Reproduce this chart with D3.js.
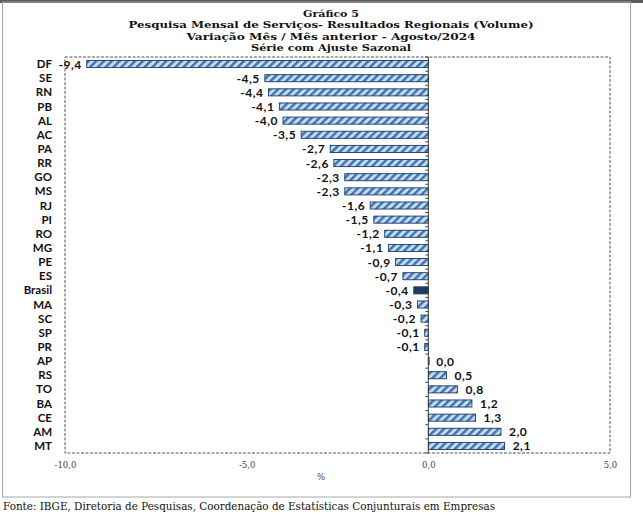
<!DOCTYPE html>
<html>
<head>
<meta charset="utf-8">
<script src="https://cdn.jsdelivr.net/npm/d3@7"></script>
<style>
  html, body { margin: 0; padding: 0; background: #fff; }
  svg { display: block; }
</style>
</head>
<body>
<svg id="chart" width="643" height="515"></svg>
<script>
const categories = ["DF","SE","RN","PB","AL","AC","PA","RR","GO","MS","RJ","PI","RO","MG","PE","ES","Brasil","MA","SC","SP","PR","AP","RS","TO","BA","CE","AM","MT"];
const values = [-9.4,-4.5,-4.4,-4.1,-4.0,-3.5,-2.7,-2.6,-2.3,-2.3,-1.6,-1.5,-1.2,-1.1,-0.9,-0.7,-0.4,-0.3,-0.2,-0.1,-0.1,0.0,0.5,0.8,1.2,1.3,2.0,2.1];
const xTicks = [-10, -5, 0, 5];
const titleLines = ["Gráfico 5", "Pesquisa Mensal de Serviços- Resultados Regionais (Volume)", "Variação Mês / Mês anterior - Agosto/2024", "Série com Ajuste Sazonal"];
const axisTitle = "%";
const sourceText = "Fonte: IBGE, Diretoria de Pesquisas, Coordenação de Estatísticas Conjunturais em Empresas";
const highlight = "Brasil";

const data = categories.map((c, i) => ({ cat: c, val: values[i] }));
const svg = d3.select("#chart");
const fmt = v => v.toFixed(1).replace(".", ",");

const plot = { left: 65, right: 610, top: 57, bottom: 453 };

// outer frame
svg.append("rect").attr("x", 0).attr("y", 0).attr("width", 643).attr("height", 3).attr("fill", "#5a5a5a");
svg.append("rect").attr("x", 2.5).attr("y", 2).attr("width", 628).attr("height", 495)
  .attr("fill", "none").attr("stroke", "#a8a8a8").attr("stroke-width", 1);

// hatch pattern
const defs = svg.append("defs");
const pat = defs.append("pattern").attr("id", "hatch").attr("patternUnits", "userSpaceOnUse")
  .attr("width", 5.5).attr("height", 5.5).attr("patternTransform", "rotate(45)");
pat.append("rect").attr("width", 5.5).attr("height", 5.5).attr("fill", "#c3daf0");
pat.append("rect").attr("x", 0).attr("width", 2.4).attr("height", 5.5).attr("fill", "#3d72ad");

// titles
const titleWidths = [56, 405, 289, 160];
const title = svg.append("g").attr("font-family", "'DejaVu Serif', serif").attr("font-weight", "bold")
  .attr("font-size", 9.8).attr("fill", "#111").attr("text-anchor", "middle");
titleLines.forEach((t, i) => {
  title.append("text").attr("x", 331).attr("y", 16.5 + i * 11.6)
    .attr("textLength", titleWidths[i]).attr("lengthAdjust", "spacingAndGlyphs").text(t);
});

const x = d3.scaleLinear().domain([-10, 5]).range([plot.left, plot.right]);
const y = d3.scaleBand().domain(categories).range([plot.top, plot.bottom]).paddingInner(0.5).paddingOuter(0.25);

// plot border dashed
svg.append("rect").attr("x", plot.left).attr("y", plot.top)
  .attr("width", plot.right - plot.left).attr("height", plot.bottom - plot.top)
  .attr("fill", "none").attr("stroke", "#555").attr("stroke-width", 1).attr("stroke-dasharray", "3,1.5");

// bars
svg.append("g").selectAll("rect").data(data).join("rect")
  .attr("x", d => x(Math.min(0, d.val)))
  .attr("y", d => y(d.cat))
  .attr("width", d => Math.max(Math.abs(x(d.val) - x(0)), 0.8))
  .attr("height", y.bandwidth())
  .attr("fill", d => d.cat === highlight ? "#1f3b5e" : "url(#hatch)")
  .attr("stroke", "#1f3864").attr("stroke-width", 0.9);

// zero axis line with band ticks
const zero = svg.append("g").attr("stroke", "#404040").attr("stroke-width", 1);
zero.append("line").attr("x1", x(0)).attr("x2", x(0)).attr("y1", plot.top).attr("y2", plot.bottom);
d3.range(categories.length + 1).forEach(i => {
  const yy = plot.top + i * (plot.bottom - plot.top) / categories.length;
  zero.append("line").attr("x1", x(0) - 3).attr("x2", x(0)).attr("y1", yy).attr("y2", yy);
});

// category labels
svg.append("g").attr("font-family", "Lato, sans-serif").attr("font-weight", "bold").attr("font-size", 11.5)
  .attr("fill", "#111").attr("text-anchor", "end")
  .selectAll("text").data(data).join("text")
  .attr("x", 52).attr("y", d => y(d.cat) + y.bandwidth() / 2).attr("dy", "0.36em")
  .text(d => d.cat);

// value labels
svg.append("g").attr("font-family", "Lato, sans-serif").attr("font-weight", "bold").attr("font-size", 12)
  .attr("fill", "#111")
  .selectAll("text").data(data).join("text")
  .attr("x", d => d.val < 0 ? x(d.val) - 5 : x(d.val) + 8)
  .attr("text-anchor", d => d.val < 0 ? "end" : "start")
  .attr("y", d => y(d.cat) + y.bandwidth() / 2).attr("dy", "0.38em")
  .attr("letter-spacing", 0.5)
  .text(d => fmt(d.val));

// x axis tick labels
const xAxis = d3.axisBottom(x).tickValues(xTicks).tickSize(0).tickPadding(0).tickFormat(fmt);
const gx = svg.append("g").attr("transform", `translate(0,${plot.bottom + 15})`).call(xAxis);
gx.select(".domain").remove();
gx.selectAll("text").attr("font-family", "'DejaVu Serif', serif").attr("font-size", 8.5)
  .attr("fill", "#444").attr("dy", 0);

svg.append("text").attr("x", 321).attr("y", 480).attr("text-anchor", "middle")
  .attr("font-family", "'DejaVu Serif', serif").attr("font-size", 8.5).attr("fill", "#444").text(axisTitle);

svg.append("text").attr("x", 3).attr("y", 510)
  .attr("font-family", "'DejaVu Serif', serif").attr("font-size", 10.5).attr("fill", "#111")
  .attr("textLength", 492).attr("lengthAdjust", "spacingAndGlyphs").text(sourceText);
</script>
</body>
</html>
